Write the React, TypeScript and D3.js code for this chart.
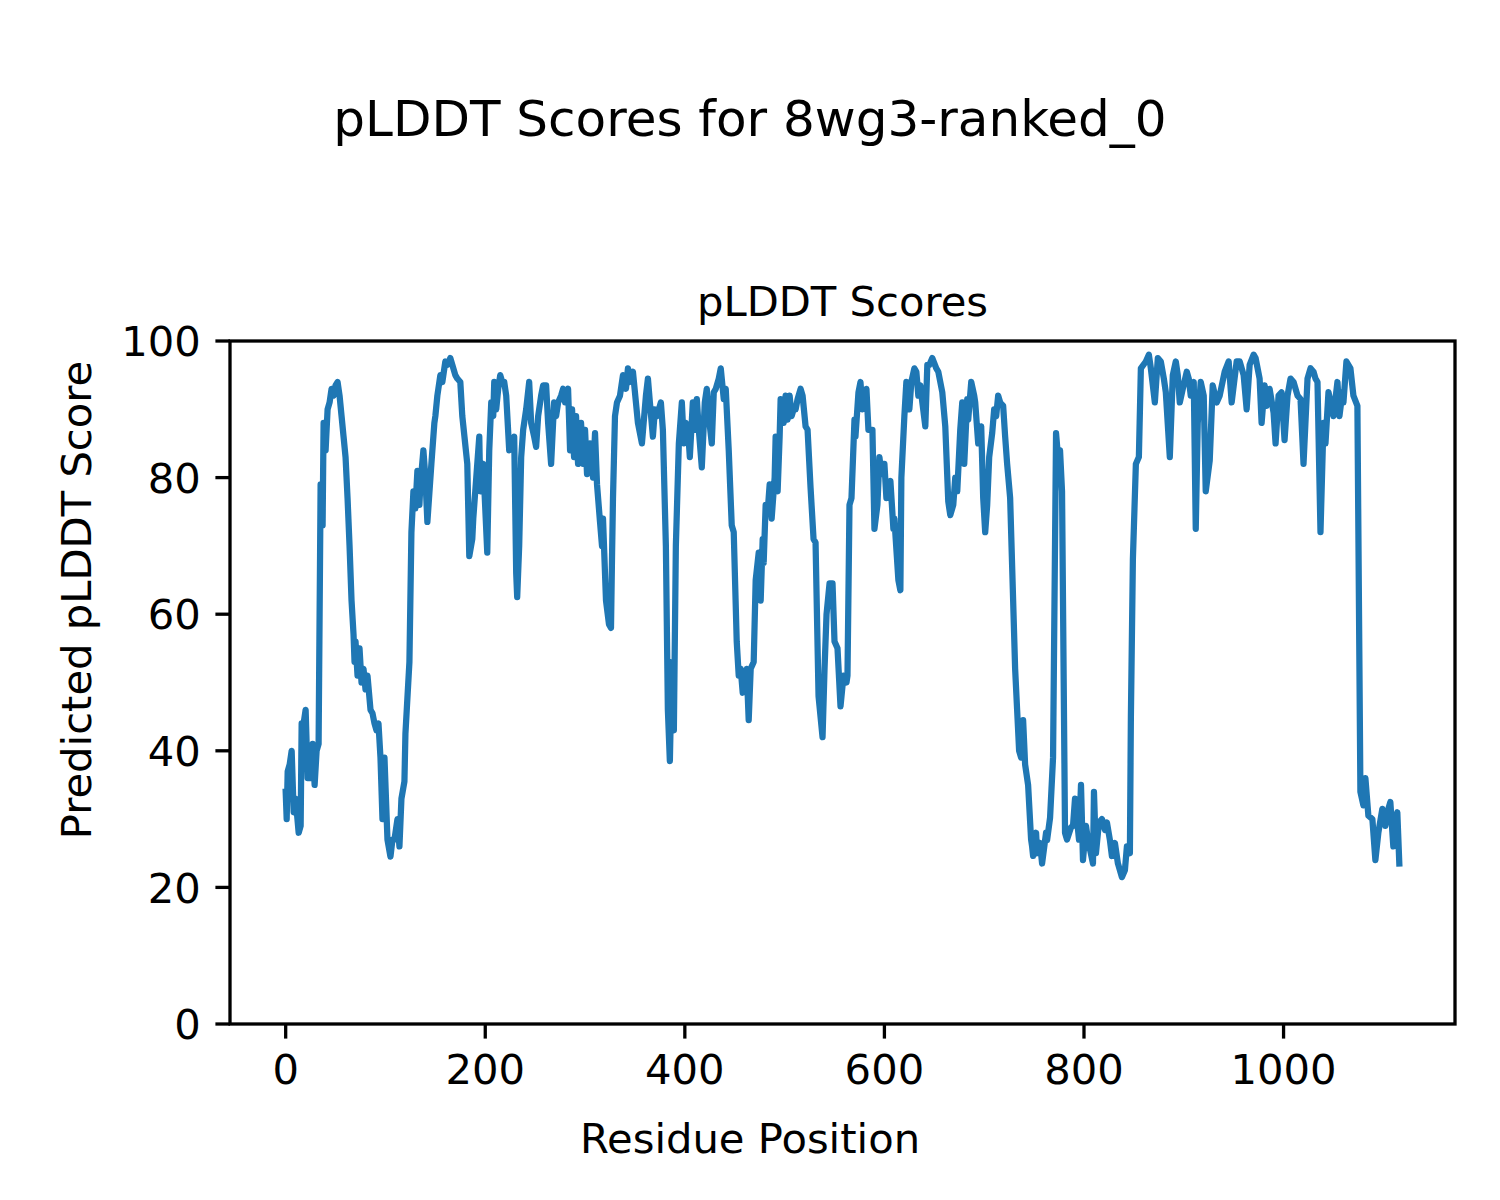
import React from "react";
import * as d3 from "d3";

// Residue positions (keypoints) and their pLDDT scores
const residues: number[] = [
  0, 1, 2, 4, 6, 8, 10, 13, 15, 16, 18, 20, 22, 25, 27, 29, 31, 33, 35, 37, 38, 40, 42, 44, 46, 48, 50, 52, 54, 56,
  58, 60, 62, 64, 66, 68, 69, 70, 72, 74, 76, 78, 80, 82, 85, 87, 89, 91, 93, 95, 97, 99, 102, 105, 107, 109, 112, 114, 116, 119, 120,
  124, 126, 128, 130, 132, 134, 135, 138, 140, 142, 146, 149, 150, 152, 155, 157, 160, 162, 165, 167, 170, 172, 175, 177, 182, 184, 187, 188, 191, 194,
  195, 198, 202, 204, 206, 208, 209, 211, 213, 215, 217, 219, 221, 224, 229, 231, 232, 234, 236, 238, 241, 244, 246, 249, 251, 253, 256, 258, 261, 263,
  266, 269, 271, 273, 276, 278, 280, 282, 283, 285, 287, 289, 291, 293, 296, 298, 300, 302, 305, 308, 310, 312, 315, 317, 318, 321, 324, 326, 327, 328,
  330, 332, 335, 338, 341, 343, 345, 348, 351, 353, 357, 361, 363, 365, 368, 370, 372, 376, 378, 381, 383, 385, 387, 389, 391, 394, 397, 399, 401, 403,
  405, 408, 410, 412, 414, 417, 420, 422, 424, 427, 429, 431, 434, 436, 439, 441, 444, 447, 449, 452, 454, 456, 458, 460, 462, 464, 466, 469, 471, 474,
  476, 478, 479, 481, 483, 485, 487, 490, 491, 493, 495, 496, 499, 501, 503, 505, 507, 509, 511, 513, 516, 518, 521, 523, 526, 529, 531, 534, 538, 540,
  542, 545, 548, 550, 553, 556, 559, 562, 563, 565, 567, 570, 571, 574, 576, 578, 580, 582, 584, 588, 590, 593, 595, 597, 599, 600, 602, 604, 606, 609,
  610, 614, 616, 617, 620, 622, 625, 627, 630, 632, 634, 636, 638, 641, 643, 645, 648, 652, 654, 658, 661, 664, 666, 669, 671, 673, 676, 678, 680, 683,
  684, 687, 690, 691, 694, 697, 699, 701, 703, 705, 708, 710, 712, 714, 716, 719, 721, 723, 726, 728, 731, 733, 735, 737, 739, 741, 744, 747, 748, 749,
  752, 753, 756, 758, 762, 763, 766, 769, 772, 774, 776, 778, 781, 783, 787, 789, 791, 795, 797, 799, 802, 804, 809, 810, 812, 815, 818, 821, 823, 826,
  828, 831, 834, 838, 841, 843, 846, 847, 849, 852, 855, 857, 862, 865, 867, 871, 874, 877, 880, 882, 886, 889, 892, 894, 896, 899, 903, 905, 907, 910,
  912, 914, 917, 920, 922, 926, 929, 933, 936, 941, 945, 948, 953, 956, 960, 963, 966, 970, 972, 976, 978, 981, 983, 986, 990, 992, 995, 998, 1001, 1004,
  1007, 1010, 1014, 1017, 1020, 1024, 1027, 1030, 1032, 1034, 1037, 1040, 1042, 1045, 1048, 1050, 1054, 1056, 1059, 1060, 1063, 1067, 1070, 1074, 1077, 1080, 1082, 1085, 1089, 1092,
  1095, 1099, 1102, 1105, 1107, 1110, 1112, 1114, 1116,
];

const plddt: number[] = [
  34, 30, 37, 38, 40, 31, 33, 28, 29, 44, 44, 46, 36, 36, 41, 35, 40, 41, 79, 73, 88, 84, 90, 91, 93, 92, 93.5, 94, 92, 89,
  86, 83, 77, 70, 62, 57, 53, 56, 51, 55, 50, 52, 49, 51, 46, 45.5, 44, 43, 44, 39, 30, 39, 27, 24.5, 27, 27, 30, 26, 33, 35.5, 42.5, 53,
  72, 78, 75.5, 81, 76, 79, 84, 80, 73.5, 82, 88, 89, 92, 95, 94, 97, 96.5, 97.5, 96.5, 95, 94.5, 94, 89, 82, 68.5, 71, 74, 80, 86, 78,
  82, 69, 84, 91, 89, 94, 90, 93, 95, 94, 94, 92, 84, 86, 66, 62.5, 70, 83, 87, 90, 94, 88, 86, 84.5, 89, 92, 93.5, 93.5, 88, 82,
  91, 89, 91, 92, 93, 91, 92.5, 93, 84, 90, 83, 89, 82, 88, 82, 87, 80.5, 85, 80, 86.5, 79, 73.5, 70, 74, 62, 58.5, 58, 68, 77, 89,
  91, 92, 95, 93, 96, 94, 95.5, 91, 88, 85, 92, 94.5, 91, 86, 90, 89, 91, 87, 70, 46, 38.5, 53, 43, 70, 85, 91, 85, 88, 87.5, 83,
  91, 87, 91.5, 87, 81.5, 91, 93, 89, 85, 92.5, 93, 94.5, 96, 91.5, 93, 84, 73, 72, 56, 51, 52, 48.5, 50, 52, 44.5, 52, 53, 65, 69, 62,
  71, 67.5, 76, 75, 79, 74, 80, 86, 78, 86, 91.5, 88, 92, 88.5, 92, 89, 90, 90, 91.5, 93, 92, 87.5, 87, 78.5, 71, 70.5, 48, 42, 52, 60,
  64.5, 64.5, 56, 55, 46.5, 51, 50, 51, 76, 77, 88.5, 86, 92.5, 94, 90, 91, 93, 87, 87, 72.5, 76, 83, 80.5, 82, 82, 77, 79, 79.5, 72.5, 74,
  65, 63.5, 80, 89, 94, 90, 94, 96, 95.5, 92, 93.5, 91, 87.5, 96.5, 96.5, 97.5, 96, 95.5, 92.5, 87.5, 76.5, 74.5, 76, 80, 78, 87, 91, 82, 91.5, 88.5,
  94, 92, 91, 85, 87.5, 77, 72, 76, 83, 86.5, 90, 89, 92, 91, 90.5, 86, 82, 77, 67, 52, 46, 40, 39, 44.5, 38, 35, 27, 26, 24.6, 28,
  25, 26.5, 23.5, 28, 26.9, 30.2, 39, 86.5, 83, 84, 78, 28, 27, 28.8, 29, 33, 27, 35, 24, 29, 27, 23.5, 34, 25, 29.5, 30, 28.4, 29.5, 26.9, 24.6,
  26.5, 23.5, 21.5, 22.5, 26, 25, 45, 68, 82, 83, 96, 97, 98, 96, 91, 97.5, 97, 94.5, 92.5, 83, 95, 97, 95, 91, 93, 95.5, 94.5, 92, 94, 72.5,
  88, 94, 92, 78, 82.5, 93.5, 91, 92, 95.5, 97, 91, 97, 97, 95, 90, 96.5, 98, 97.5, 94.5, 88, 93.5, 90.5, 93, 89.5, 85, 92, 92.5, 85.5, 92, 94.5,
  94, 92, 91.5, 82, 94.5, 96, 95.5, 94.5, 94, 72, 88, 85, 92.5, 90.5, 89, 94, 89, 92.5, 91, 97, 96, 92, 90.5, 34, 32, 36, 30.5, 30, 24, 28,
  31.5, 29, 31.5, 32.5, 26, 29, 31, 23.5, 27,
];

const xTicks: number[] = [0, 200, 400, 600, 800, 1000];
const yTicks: number[] = [0, 20, 40, 60, 80, 100];

const suptitle = "pLDDT Scores for 8wg3-ranked_0";
const axTitle = "pLDDT Scores";
const xLabel = "Residue Position";
const yLabel = "Predicted pLDDT Score";

export default function App() {
  const W = 1500;
  const H = 1200;
  const left = 230;
  const right = 1455;
  const top = 341;
  const bottom = 1024;
  const n = d3.max(residues) as number;
  const pad = n * 0.05;
  const x = d3.scaleLinear().domain([-pad, n + pad]).range([left, right]);
  const y = d3.scaleLinear().domain([0, 100]).range([bottom, top]);
  const pts = residues.map((r, i) => [r, plddt[i]] as [number, number]);
  const line = d3
    .line<[number, number]>()
    .x((d) => x(d[0]))
    .y((d) => y(d[1]));
  const font = "'DejaVu Sans', sans-serif";
  const fs = 41.7;
  const tickLen = 14.6;
  const sw = 3.3;
  return (
    <svg
      width={W}
      height={H}
      style={{ position: "absolute", left: 0, top: 0, background: "#fff" }}
      fontFamily={font}
    >
      <rect x={0} y={0} width={W} height={H} fill="#fff" />
      <text x={750} y={136} fontSize={50} textAnchor="middle" fill="#000">
        {suptitle}
      </text>
      <text x={(left + right) / 2} y={316} fontSize={fs} textAnchor="middle" fill="#000">
        {axTitle}
      </text>
      <path
        d={line(pts) || ""}
        fill="none"
        stroke="#1f77b4"
        strokeWidth={6.25}
        strokeLinejoin="round"
        strokeLinecap="square"
      />
      <rect
        x={left}
        y={top}
        width={right - left}
        height={bottom - top}
        fill="none"
        stroke="#000"
        strokeWidth={sw}
      />
      {xTicks.map((t) => (
        <g key={"x" + t}>
          <line x1={x(t)} x2={x(t)} y1={bottom} y2={bottom + tickLen} stroke="#000" strokeWidth={sw} />
          <text x={x(t)} y={bottom + tickLen + 14.6 + 30.4} fontSize={fs} textAnchor="middle" fill="#000">
            {t}
          </text>
        </g>
      ))}
      {yTicks.map((t) => (
        <g key={"y" + t}>
          <line x1={left - tickLen} x2={left} y1={y(t)} y2={y(t)} stroke="#000" strokeWidth={sw} />
          <text x={left - tickLen - 14.6} y={y(t) + 15.2} fontSize={fs} textAnchor="end" fill="#000">
            {t}
          </text>
        </g>
      ))}
      <text x={750} y={1153} fontSize={fs} textAnchor="middle" fill="#000">
        {xLabel}
      </text>
      <text
        transform={`translate(91,600) rotate(-90)`}
        fontSize={fs}
        textAnchor="middle"
        fill="#000"
      >
        {yLabel}
      </text>
    </svg>
  );
}
